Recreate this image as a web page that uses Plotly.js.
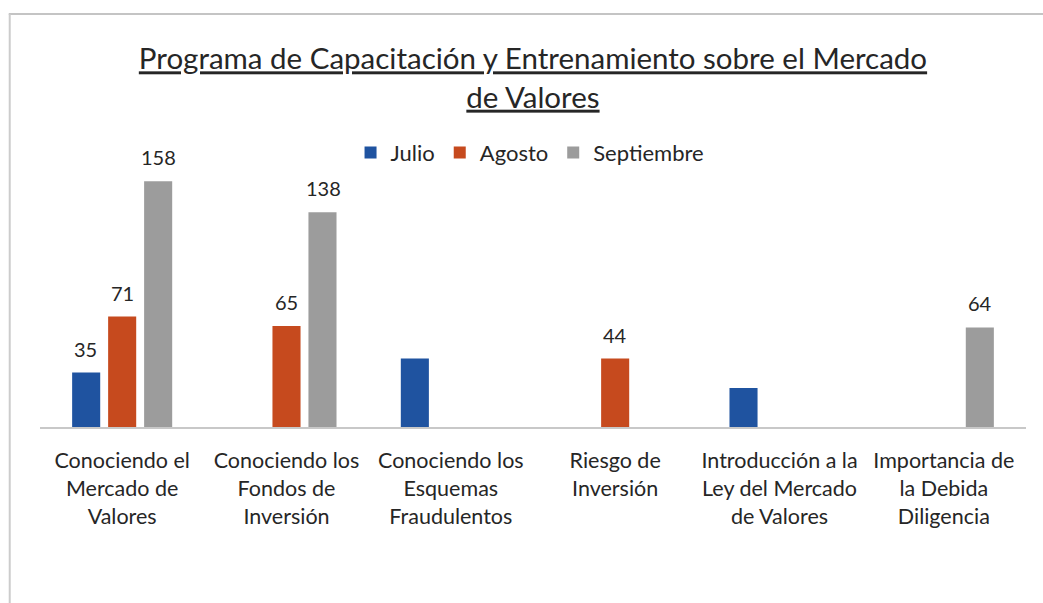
<!DOCTYPE html>
<html>
<head>
<meta charset="utf-8">
<script src="https://cdn.plot.ly/plotly-3.0.1.min.js"></script>
<style>html,body{margin:0;padding:0;background:#fff;}#chart{width:1043px;height:603px;}</style>
</head>
<body>
<div id="chart"></div>
<script>
const categories = [
  "Conociendo el<br>Mercado de<br>Valores",
  "Conociendo los<br>Fondos de<br>Inversión",
  "Conociendo los<br>Esquemas<br>Fraudulentos",
  "Riesgo de<br>Inversión",
  "Introducción a la<br>Ley del Mercado<br>de Valores",
  "Importancia de<br>la Debida<br>Diligencia"
];
const seriesNames = ["Julio", "Agosto", "Septiembre"];
const julio      = [35, 0, 44, 0, 25, 0];
const agosto     = [71, 65, 0, 44, 0, 0];
const septiembre = [158, 138, 0, 0, 0, 64];
// which values carry a data label in the original
const julioLabeled      = [true, false, false, false, false, false];
const agostoLabeled     = [true, true, false, true, false, false];
const septiembreLabeled = [true, true, false, false, false, true];
const colors = ["#1f53a0", "#c64a1e", "#9c9c9c"];

const FONT = "Lato, 'Open Sans', sans-serif";
const TEXT = "#262626";
const values = [julio, agosto, septiembre];
const labeled = [julioLabeled, agostoLabeled, septiembreLabeled];

const traces = values.map((vals, i) => ({
  type: "bar",
  name: seriesNames[i],
  x: categories,
  y: vals,
  marker: {color: colors[i]},
  hoverinfo: "none"
}));

// data labels as annotations placed on the data scale above each bar
const groupShift = [-36.5, 0, 36.5];
const annotations = [];
values.forEach((vals, i) => {
  vals.forEach((v, j) => {
    if (!labeled[i][j]) return;
    annotations.push({
      x: categories[j], y: v, xref: "x", yref: "y",
      text: String(v), showarrow: false,
      xanchor: "center", yanchor: "middle",
      xshift: groupShift[i], yshift: 24,
      font: {family: FONT, size: 20, color: TEXT}
    });
  });
});

const layout = {
  width: 1043, height: 603,
  paper_bgcolor: "#ffffff", plot_bgcolor: "#ffffff",
  margin: {l: 40, r: 17, t: 147, b: 176},
  font: {family: FONT, color: TEXT},
  title: {
    text: "<u>Programa de Capacitación y Entrenamiento sobre el Mercado</u><br><u>de Valores</u>",
    font: {family: FONT, size: 29.5, color: TEXT},
    x: 0.511, xanchor: "center",
    y: 0.885, yref: "container", yanchor: "middle"
  },
  barmode: "group",
  bargap: 0.343,
  bargroupgap: 0.22,
  showlegend: true,
  legend: {
    orientation: "h",
    x: 0.497, xanchor: "center",
    y: 0.98, yanchor: "middle",
    font: {family: FONT, size: 22, color: TEXT},
    itemwidth: 30,
    traceorder: "normal"
  },
  annotations: annotations,
  xaxis: {
    showline: true, linecolor: "#c8c8c8", linewidth: 1.5,
    showgrid: false, zeroline: false, ticks: "",
    tickfont: {family: FONT, size: 21.5, color: TEXT},
    ticklabelstandoff: 14,
    tickangle: 0
  },
  yaxis: {
    range: [0, 180],
    showgrid: false, zeroline: false, showline: false,
    showticklabels: false, ticks: ""
  },
  shapes: [
    {type: "line", xref: "paper", yref: "paper", x0: -0.0317, x1: 1.02, y0: 1.475, y1: 1.475,
     line: {color: "#c4c4c4", width: 2}},
    {type: "line", xref: "paper", yref: "paper", x0: -0.0307, x1: -0.0307, y0: 1.475, y1: -0.63,
     line: {color: "#cccccc", width: 2}}
  ]
};

Plotly.newPlot("chart", traces, layout, {displayModeBar: false, staticPlot: true});
</script>
</body>
</html>
